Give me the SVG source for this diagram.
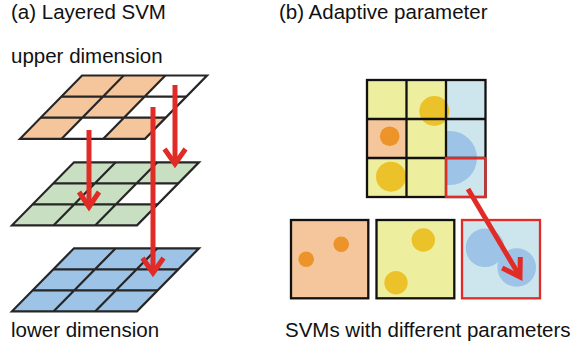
<svg xmlns="http://www.w3.org/2000/svg" width="582" height="345" viewBox="0 0 582 345">
<style>
  .t { font-family: "Liberation Sans", Arial, sans-serif; font-size: 20.5px; fill: #111; }
  .gl { fill: none; stroke: #262626; stroke-width: 2.2; stroke-linejoin: miter; }
  .rg { fill: none; stroke: #111; stroke-width: 2.3; }
  .arr { fill: none; stroke: #e02b27; stroke-width: 5; stroke-linejoin: miter; stroke-miterlimit: 10; }
  .orange { fill: #f5c69b; }
  .yellow { fill: #eeee9f; }
  .lblue { fill: #cde6ee; }
  .green { fill: #c9dfc2; }
  .blue { fill: #9dc3e6; }
  .gold { fill: #ecc22b; }
  .odot { fill: #ec9429; }
  .bdot { fill: #9dc3e6; }
</style>
<defs>
  <clipPath id="col3"><rect x="446" y="80" width="40" height="117"/></clipPath>
</defs>
<rect width="582" height="345" fill="#fff"/>

<text class="t" x="11" y="19">(a) Layered SVM</text>
<text class="t" x="279" y="19">(b) Adaptive parameter</text>
<text class="t" x="11" y="63">upper dimension</text>
<text class="t" x="11" y="337">lower dimension</text>
<text class="t" x="285" y="337">SVMs with different parameters</text>

<g id="upper-grid">
  <polygon class="orange" points="82,75.5 207,75.5 145,138.8 20,138.8"/>
  <polygon fill="#fff" points="165.33,75.5 207,75.5 186.33,96.6 144.67,96.6"/>
  <polygon fill="#fff" points="144.67,96.6 186.33,96.6 165.67,117.7 124,117.7"/>
  <polygon fill="#fff" points="82.33,117.7 124,117.7 103.33,138.8 61.67,138.8"/>
  <polygon class="gl" points="82,75.5 207,75.5 145,138.8 20,138.8"/>
  <path class="gl" d="M61.33,96.6H186.33M40.67,117.7H165.67M123.67,75.5L61.67,138.8M165.33,75.5L103.33,138.8"/>
</g>

<g id="middle-grid">
  <polygon class="green" points="74,162.3 199,162.3 137,225.3 12,225.3"/>
  <polygon fill="#fff" points="136.67,183.3 178.33,183.3 157.67,204.3 116,204.3"/>
  <polygon class="gl" points="74,162.3 199,162.3 137,225.3 12,225.3"/>
  <path class="gl" d="M53.33,183.3H178.33M32.67,204.3H157.67M115.67,162.3L53.67,225.3M157.33,162.3L95.33,225.3"/>
</g>

<g id="lower-grid">
  <polygon class="blue" points="74,248.3 199,248.3 137,311.3 12,311.3"/>
  <polygon class="gl" points="74,248.3 199,248.3 137,311.3 12,311.3"/>
  <path class="gl" d="M53.33,269.3H178.33M32.67,290.3H157.67M115.67,248.3L53.67,311.3M157.33,248.3L95.33,311.3"/>
</g>

<g id="param-grid">
  <rect class="yellow" x="367" y="80" width="79" height="117"/>
  <rect class="lblue" x="446" y="80" width="39.5" height="117"/>
  <rect class="orange" x="367" y="119" width="39.5" height="39"/>
  <circle class="gold" cx="434.3" cy="111" r="15"/>
  <circle class="odot" cx="389.7" cy="136.3" r="9.8"/>
  <circle class="gold" cx="391" cy="176.7" r="15"/>
  <circle class="bdot" cx="450" cy="158" r="27" clip-path="url(#col3)"/>
  <rect class="rg" x="367" y="80" width="118.5" height="117"/>
  <path class="rg" d="M406.5,80V197M446,80V197M367,119H485.5M367,158H485.5"/>
  <rect x="446" y="158" width="39.5" height="39" fill="none" stroke="#e02b27" stroke-width="2.3"/>
</g>

<g id="svm-orange">
  <rect class="orange" x="291" y="220" width="77.3" height="78.3" stroke="#111" stroke-width="2.3"/>
  <circle class="odot" cx="341.2" cy="244.2" r="7.8"/>
  <circle class="odot" cx="306.2" cy="259.3" r="7.8"/>
</g>

<g id="svm-yellow">
  <rect class="yellow" x="376.5" y="220" width="77.8" height="78.3" stroke="#111" stroke-width="2.3"/>
  <circle class="gold" cx="423.3" cy="240" r="11.7"/>
  <circle class="gold" cx="396" cy="282.7" r="11.7"/>
</g>

<g id="svm-blue">
  <rect class="lblue" x="462" y="220" width="78" height="78.3" stroke="#e02b27" stroke-width="2.3"/>
  <circle class="bdot" cx="485" cy="247.8" r="19.3"/>
  <circle class="bdot" cx="516.7" cy="267.5" r="19.3"/>
</g>

<g id="connectors">
  <path class="arr" d="M89,130V206"/>
  <polyline class="arr" points="79,192 89,207 99,192"/>
  <path class="arr" d="M153,107V271"/>
  <polyline class="arr" points="142.5,258 153,273 163.5,258"/>
  <path class="arr" d="M175,85V162"/>
  <polyline class="arr" points="164.5,149 175,164 185.5,149"/>
  <path class="arr" d="M468,189L519,275"/>
  <polyline class="arr" points="502.2,267.9 520,277 520.3,257"/>
</g>
</svg>
